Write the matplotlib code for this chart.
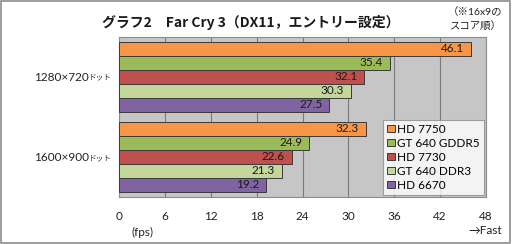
import numpy as np
import matplotlib
matplotlib.use('Agg')
import matplotlib.pyplot as plt
from matplotlib.patches import Rectangle

plt.rcParams['font.family'] = ['Lato', 'Noto Sans CJK JP', 'DejaVu Sans']

resolutions = ['1280×720', '1600×900']
series = ['HD 7750', 'GT 640 GDDR5', 'HD 7730', 'GT 640 DDR3', 'HD 6670']
colors = ['#f79646', '#9bbb59', '#c0504d', '#c3d69b', '#8064a2']
fps_720 = [46.1, 35.4, 32.1, 30.3, 27.5]
fps_900 = [32.3, 24.9, 22.6, 21.3, 19.2]
xticks = [0, 6, 12, 18, 24, 30, 36, 42, 48]

W, H = 512, 244
fig = plt.figure(figsize=(W/100, H/100), dpi=100)
fig.patches.append(Rectangle((0.002, 0.004), 0.995, 0.992, transform=fig.transFigure,
                             fill=False, edgecolor='#8c8c8c', lw=1.2))

x0, x1, y0, y1 = 119, 486, 37, 197
ax = fig.add_axes([x0/W, 1-y1/H, (x1-x0)/W, (y1-y0)/H])
ax.set_facecolor('#c6c6c6')

bh = 0.175
for j, (name, c) in enumerate(zip(series, colors)):
    vals = [fps_720[j], fps_900[j]]
    ypos = np.arange(2) + (j-2)*bh
    ax.barh(ypos, vals, height=bh, color=c, edgecolor='#3a3a3a', lw=0.7, zorder=3, label=name)
    for y, v in zip(ypos, vals):
        ax.text(v - 0.9, y, '%.1f' % v, ha='right', va='center', fontsize=8.5, color='#1a1a1a', zorder=4)

ax.set_xlim(0, 48)
ax.set_ylim(1.5, -0.5)
ax.set_xticks(xticks)
ax.xaxis.grid(True, color='#7a7a7a', lw=0.8, zorder=1)
ax.set_axisbelow(True)
ax.tick_params(axis='x', length=0, labelsize=8.5, pad=10, colors='#222222')
ax.set_yticks([])
for s in ax.spines.values():
    s.set_color('#8c8c8c')
    s.set_linewidth(0.8)

# category labels with small "ドット"
renderer = fig.canvas.get_renderer()
for i, r in enumerate(resolutions):
    yc = (77 + i*80.5)
    t = fig.text(112/W, 1-yc/H, 'ドット', ha='right', va='center', fontsize=5.5, color='#222222')
    bb = t.get_window_extent(renderer)
    fig.text(bb.x0/W, 1-yc/H, r, ha='right', va='center', fontsize=8.5, color='#222222')

leg = ax.legend(loc='lower right', bbox_to_anchor=(1.0, 0.0), fontsize=8.5, frameon=True,
                fancybox=False, handlelength=0.6, handleheight=0.6, handletextpad=0.2,
                labelspacing=0.25, borderpad=0.35, borderaxespad=0.2)
leg.get_frame().set_edgecolor('#8c8c8c')
leg.get_frame().set_linewidth(0.8)
leg.set_zorder(5)

fig.text(251/W, 1-23/H, 'グラフ2\u3000Far Cry 3（DX11，エントリー設定）', ha='center', va='center',
         fontsize=10, fontweight='bold', color='#1a1a1a', family=['Noto Sans CJK JP', 'DejaVu Sans'])
fig.text(502/W, 1-12/H, '（※16x9の', ha='right', va='center', fontsize=7.5, color='#222222')
fig.text(502/W, 1-27/H, 'スコア順）', ha='right', va='center', fontsize=7.5, color='#222222')
fig.text(143/W, 1-232/H, '(fps)', ha='center', va='center', fontsize=8.5, color='#222222')
fig.text(502/W, 1-230/H, '→Fast', ha='right', va='center', fontsize=8.5, color='#222222')

fig.savefig('out.png', dpi=100)
